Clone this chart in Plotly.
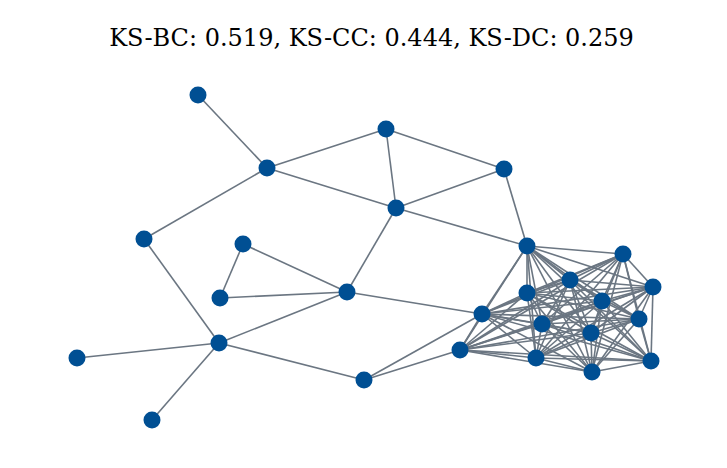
import itertools
import plotly.graph_objects as go

# node layout (pixel-ish coordinates, y down)
node_x = [197, 266, 385, 395, 143, 503, 346, 242, 219, 218, 76, 151, 363,
          526, 622, 569, 652, 526, 601, 481, 638, 541, 590, 459, 535, 650, 591]
node_y = [94, 167, 128, 207, 238, 168, 291, 243, 297, 342, 357, 419, 379,
          245, 253, 279, 286, 292, 300, 313, 318, 323, 332, 349, 357, 360, 371]

cluster = list(range(13, 27))
edges = [(0, 1), (1, 2), (1, 3), (1, 4), (2, 3), (2, 5), (3, 5), (3, 13), (5, 13),
         (3, 6), (6, 7), (7, 8), (8, 6), (6, 9), (6, 19), (4, 9), (9, 10), (9, 11),
         (9, 12), (12, 19), (12, 23)]
edges += list(itertools.combinations(cluster, 2))

ex, ey = [], []
for a, b in edges:
    ex += [node_x[a], node_x[b], None]
    ey += [node_y[a], node_y[b], None]

fig = go.Figure()
fig.add_trace(go.Scatter(x=ex, y=ey, mode="lines", line=dict(color="#6b7682", width=1.6),
                         hoverinfo="skip"))
fig.add_trace(go.Scatter(x=node_x, y=node_y, mode="markers",
                         marker=dict(size=17, color="#004f93", line=dict(width=0))))
fig.update_layout(
    width=727, height=468, showlegend=False,
    plot_bgcolor="white", paper_bgcolor="white",
    margin=dict(l=0, r=0, t=0, b=0),
    title=dict(text="KS-BC: 0.519, KS-CC: 0.444, KS-DC: 0.259", x=0.5, y=0.955,
               xanchor="center", font=dict(family="DejaVu Serif", size=24, color="black")),
)
fig.update_xaxes(visible=False, range=[7, 734])
fig.update_yaxes(visible=False, range=[475, 7])
fig.write_html("out.html")
